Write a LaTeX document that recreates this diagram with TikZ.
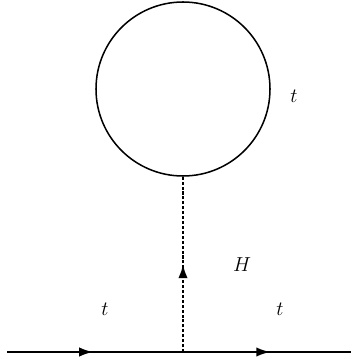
\documentclass[tikz,border=0pt]{standalone}
\usetikzlibrary{positioning,arrows.meta,decorations.markings}
\tikzset{
  arrowmid/.style={postaction={decorate},
    decoration={markings,mark=at position #1 with {\arrow{Latex[length=12pt,width=8pt]}}}},
  fermion/.style={line width=1.8pt,arrowmid=#1},
  scalar/.style={line width=2.2pt,dash pattern=on 2.6pt off 1.6pt,arrowmid=#1},
  loopline/.style={line width=1.3pt},
  lbl/.style={font=\fontsize{19}{23}\selectfont}
}

\begin{document}
\begin{tikzpicture}[x=0.03cm,y=0.03cm]
\useasboundingbox (0,0) rectangle (351,359);
% vertices and ends of the lines
\coordinate (in) at (7,7);
\coordinate (v) at (183,7);
\coordinate (out) at (351,7);
\coordinate (w) at (183,183);
% tadpole loop
\draw[loopline] (183,270) circle (87);
% top line
\draw[fermion=0.49] (in) -- (v);
\draw[fermion=0.52] (v) -- (out);
% Higgs line
\draw[scalar=0.5] (v) -- (w);
% labels
\node[lbl] (tloop) at (294,263) {$t$};
\node[lbl] (lH) at (242,94) {$H$};
\node[lbl] (tin) at (105,50) {$t$};
\node[lbl] (tout) at (280,50) {$t$};
\end{tikzpicture}
\end{document}
